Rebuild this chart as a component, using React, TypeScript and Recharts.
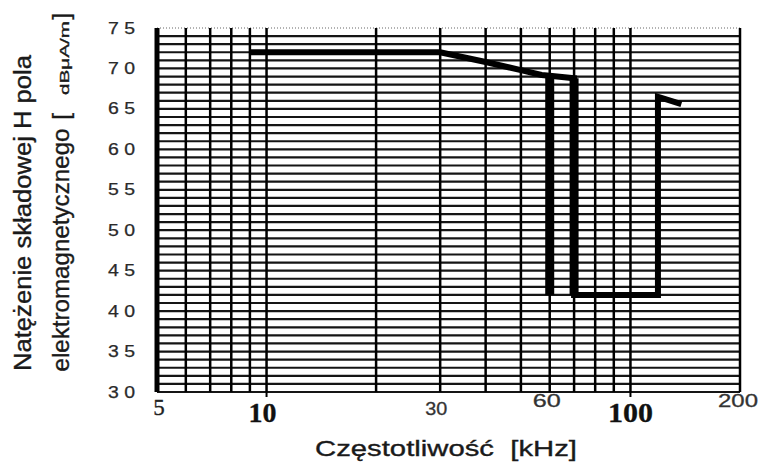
import { Line, LineChart, ReferenceLine, XAxis, YAxis } from "recharts";

const sans = "'Liberation Sans', Arial, sans-serif";
const serif = "'Liberation Serif', 'Times New Roman', serif";

// field strength limit
const limitFreq = [9, 30, 40, 50, 57, 60, 70, 70, 119, 119, 138];
const limitDb = [72, 72, 70.8, 69.8, 69.2, 69.1, 68.8, 42, 42, 66.5, 65.6];

// the two heavy notches
const dropFreq = [60, 70];
const dropTop = [69.2, 68.8];
const dropBottom = [42, 42];

const dbGrid = [
  30, 31, 32, 33, 34, 35, 36, 37, 38, 39, 40, 41, 42, 43, 44, 45, 46, 47, 48, 49, 50, 51, 52,
  53, 54, 55, 56, 57, 58, 59, 60, 61, 62, 63, 64, 65, 66, 67, 68, 69, 70, 71, 72, 73, 74, 75,
];
const dbLabels = [30, 35, 40, 45, 50, 55, 60, 65, 70, 75];
const freqGrid = [5, 6, 7, 8, 9, 10, 20, 30, 40, 50, 60, 70, 80, 90, 100, 200];
const freqLabels = [5, 10, 30, 60, 100, 200];

const limitData = limitFreq.map((f, i) => ({ f, db: limitDb[i] }));

type TickStyle = { font: string; size: number; weight: number; dx: number; dy: number; len?: number; color: string };
const xTickLook: Record<number, TickStyle> = {
  5: { font: serif, size: 23, weight: 400, dx: 2, dy: 15, color: "#222" },
  10: { font: serif, size: 27, weight: 700, dx: -4, dy: 22, len: 28, color: "#111" },
  30: { font: sans, size: 18, weight: 400, dx: -4, dy: 15, len: 22, color: "#333" },
  60: { font: sans, size: 18, weight: 400, dx: -3, dy: 7, len: 28, color: "#333" },
  100: { font: serif, size: 28, weight: 700, dx: 0, dy: 22, len: 45, color: "#111" },
  200: { font: sans, size: 18, weight: 400, dx: -2, dy: 7, len: 40, color: "#333" },
};

function FreqTick(props: any) {
  const { x, y, payload } = props;
  const v = payload.value as number;
  const look = xTickLook[v];
  const showMark = v === 10 || v === 100;
  if (!freqLabels.includes(v)) return <g />;
  return (
    <g>
      {showMark && <line x1={x} x2={x} y1={y - 8} y2={y - 3} stroke="#000" strokeWidth={2} />}
      <text
        x={x + look.dx}
        y={y + look.dy}
        textAnchor="middle"
        fontFamily={look.font}
        fontSize={look.size}
        fontWeight={look.weight}
        fill={look.color}
        stroke={look.color}
        strokeWidth={0.3}
        textLength={look.len}
        lengthAdjust={look.len ? "spacingAndGlyphs" : undefined}
      >
        {v}
      </text>
    </g>
  );
}

function DbTick(props: any) {
  const { x, y, payload } = props;
  const v = payload.value as number;
  if (!dbLabels.includes(v)) return <g />;
  return (
    <text
      x={x}
      y={y + 5.5}
      textAnchor="end"
      fontFamily={sans}
      fontSize={16}
      fill="#2a2a2a"
      stroke="#2a2a2a"
      strokeWidth={0.25}
      textLength={27}
      lengthAdjust="spacingAndGlyphs"
    >
      {String(v).split("").join(" ")}
    </text>
  );
}

function Titles() {
  return (
    <svg
      width={761}
      height={469}
      style={{ position: "absolute", left: 0, top: 0, pointerEvents: "none" }}
    >
      <g fill="#1a1a1a" stroke="#1a1a1a" strokeWidth={0.35} fontFamily={sans}>
        <text
          x={31}
          y={213}
          transform="rotate(-90 31 213)"
          textAnchor="middle"
          fontSize={23}
          textLength={316}
          lengthAdjust="spacingAndGlyphs"
        >
          Natężenie składowej H pola
        </text>
        <text
          x={69}
          y={250}
          transform="rotate(-90 69 250)"
          textAnchor="middle"
          fontSize={24}
          textLength={243}
          lengthAdjust="spacingAndGlyphs"
        >
          elektromagnetycznego
        </text>
        <text x={69} y={116.5} transform="rotate(-90 69 116.5)" textAnchor="middle" fontSize={24}>
          [
        </text>
        <text
          x={69}
          y={58}
          transform="rotate(-90 69 58)"
          textAnchor="middle"
          fontSize={13.5}
          textLength={74}
          lengthAdjust="spacingAndGlyphs"
        >
          dBμA/m
        </text>
        <text x={69} y={16.5} transform="rotate(-90 69 16.5)" textAnchor="middle" fontSize={24}>
          ]
        </text>
        <text
          x={315}
          y={456}
          fontSize={22}
          textLength={262}
          lengthAdjust="spacingAndGlyphs"
          style={{ whiteSpace: "pre" }}
        >
          {"Częstotliwość  [kHz]"}
        </text>
      </g>
    </svg>
  );
}

export default function App() {
  return (
    <div style={{ position: "absolute", left: 0, top: 0, width: 761, height: 469, background: "#fff" }}>
      <LineChart width={761} height={469} margin={{ top: 28, right: 21, bottom: 0, left: 0 }}>
        <XAxis
          dataKey="f"
          type="number"
          scale="log"
          domain={[5, 200]}
          ticks={freqGrid}
          interval={0}
          allowDataOverflow
          axisLine={false}
          tickLine={false}
          height={77}
          tick={<FreqTick />}
        />
        <YAxis
          type="number"
          domain={[30, 75]}
          ticks={dbGrid}
          interval={0}
          axisLine={false}
          tickLine={false}
          width={157}
          tickMargin={16}
          tick={<DbTick />}
        />
        {dbGrid.map((v) => (
          <ReferenceLine
            key={`h${v}`}
            y={v}
            stroke={v === 75 ? "#999" : "#151515"}
            strokeWidth={v === 75 ? 1.5 : 2.2}
            strokeDasharray={v === 75 ? "1 2" : undefined}
          />
        ))}
        {freqGrid.map((f) => (
          <ReferenceLine key={`v${f}`} x={f} stroke="#000" strokeWidth={f === 5 ? 5 : 2.5} />
        ))}
        <Line
          data={limitData}
          dataKey="db"
          stroke="#000"
          strokeWidth={6}
          strokeLinejoin="miter"
          dot={false}
          isAnimationActive={false}
        />
        {dropFreq.map((f, i) => (
          <Line
            key={`d${f}`}
            data={[
              { f, db: dropTop[i] },
              { f, db: dropBottom[i] },
            ]}
            dataKey="db"
            stroke="#000"
            strokeWidth={9}
            dot={false}
            isAnimationActive={false}
          />
        ))}
      </LineChart>
      <Titles />
    </div>
  );
}
